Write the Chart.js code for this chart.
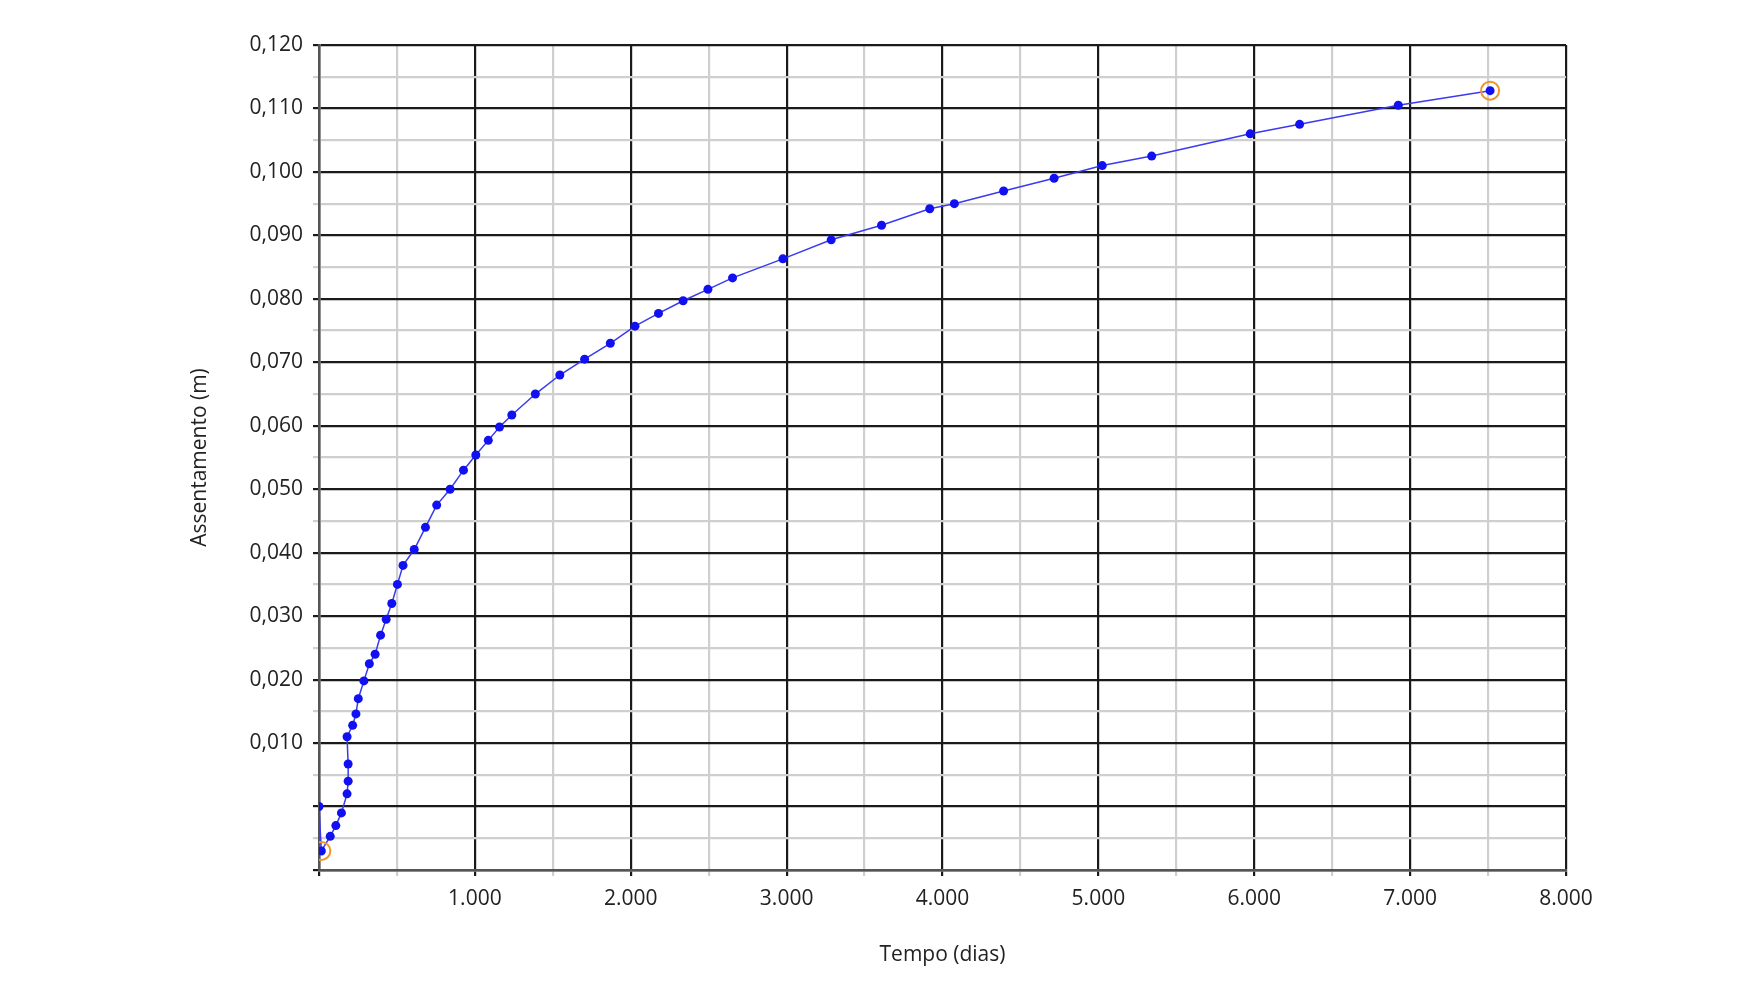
<!DOCTYPE html>
<html>
<head>
<meta charset="utf-8">
<script src="https://cdn.jsdelivr.net/npm/chart.js@4/dist/chart.umd.min.js"></script>
<style>
  body { margin: 0; background: #fff; }
  #wrap { width: 1750px; height: 1000px; }
</style>
</head>
<body>
<div id="wrap"><canvas id="chart"></canvas></div>
<script>
// Tempo (dias) e assentamento (m)
var tempo = [0, 15, 72, 108, 144, 180, 187, 187, 180, 216, 237, 252, 288, 323, 360, 395, 431, 467,
    503, 539, 611, 683, 755, 841, 927, 1006, 1086, 1158, 1237, 1388, 1545, 1704, 1869, 2027,
    2178, 2336, 2495, 2653, 2976, 3286, 3609, 3918, 4076, 4392, 4716, 5025, 5342, 5974, 6291,
    6924, 7513];
var assentamento = [0.000, -0.007, -0.0047, -0.003, -0.001, 0.002, 0.004, 0.0067, 0.011, 0.0128,
    0.0146, 0.017, 0.0198, 0.0225, 0.024, 0.027, 0.0295, 0.032, 0.035, 0.038, 0.0405, 0.044,
    0.0475, 0.050, 0.053, 0.0554, 0.0577, 0.0598, 0.0617, 0.065, 0.068, 0.0705, 0.073, 0.0757,
    0.0777, 0.0797, 0.0815, 0.0833, 0.0863, 0.0893, 0.0916, 0.0942, 0.095, 0.097, 0.099, 0.101,
    0.1025, 0.106, 0.1075, 0.1105, 0.1128];
var destaque = [1, tempo.length - 1];       // pontos marcados com círculo laranja
var tituloX = 'Tempo (dias)';
var tituloY = 'Assentamento (m)';

var pts = tempo.map(function (t, i) { return { x: t, y: assentamento[i] }; });
var marks = destaque.map(function (i) { return pts[i]; });

var FONT = "'Open Sans', sans-serif";

function isMajor(v, major) {
    return Math.abs(Math.round(v / major) * major - v) < major / 100;
}
function gridColor(ctx, major) {
    return ctx.tick && isMajor(ctx.tick.value, major) ? '#1a1a1a' : '#cfcfcf';
}

// títulos dos eixos desenhados à mão, perto dos eixos como no original
var axisTitles = {
    id: 'axisTitles',
    afterDraw: function (chart) {
        var c = chart.ctx, a = chart.chartArea;
        c.save();
        c.fillStyle = '#222';
        c.font = '21px ' + FONT;
        c.textAlign = 'center';
        c.textBaseline = 'middle';
        c.fillText(tituloX, (a.left + a.right) / 2, 955);
        c.translate(200, (a.top + a.bottom) / 2);
        c.rotate(-Math.PI / 2);
        c.fillText(tituloY, 0, 0);
        c.restore();
    }
};

new Chart(document.getElementById('chart'), {
    type: 'scatter',
    data: {
        datasets: [{
            data: marks,
            showLine: false,
            pointRadius: 9,
            pointBorderWidth: 2,
            pointBorderColor: '#f0962a',
            pointBackgroundColor: 'rgba(0,0,0,0)'
        }, {
            data: pts,
            showLine: true,
            borderColor: '#3a3af0',
            borderWidth: 1.5,
            pointRadius: 4.5,
            pointBackgroundColor: '#1010f0',
            pointBorderWidth: 0
        }]
    },
    options: {
        responsive: true,
        maintainAspectRatio: false,
        animation: false,
        layout: { padding: { left: 0, right: 184, top: 45, bottom: 0 } },
        plugins: { legend: { display: false }, tooltip: { enabled: false } },
        scales: {
            x: {
                type: 'linear', min: 0, max: 8000,
                afterFit: function (s) { s.height = 130; },
                ticks: {
                    stepSize: 500, autoSkip: false, maxRotation: 0, padding: 10,
                    color: '#222', font: { family: FONT, size: 21 },
                    callback: function (v) {
                        if (v <= 0 || !isMajor(v, 1000)) return '';
                        return (v / 1000) + '.000';
                    }
                },
                grid: {
                    color: function (c) { return gridColor(c, 1000); },
                    lineWidth: 2.2,
                    tickLength: 6
                },
                border: { color: '#555', width: 2.5 }
            },
            y: {
                type: 'linear', min: -0.01, max: 0.12,
                afterFit: function (s) { s.width = 319; },
                ticks: {
                    stepSize: 0.005, autoSkip: false, padding: 10,
                    color: '#222', font: { family: FONT, size: 21 },
                    callback: function (v) {
                        if (v <= 0.0001 || !isMajor(v, 0.01)) return '';
                        return v.toFixed(3).replace('.', ',');
                    }
                },
                grid: {
                    color: function (c) { return gridColor(c, 0.01); },
                    lineWidth: 2.2,
                    tickLength: 6
                },
                border: { color: '#555', width: 2.5 }
            }
        }
    },
    plugins: [axisTitles]
});
</script>
</body>
</html>
